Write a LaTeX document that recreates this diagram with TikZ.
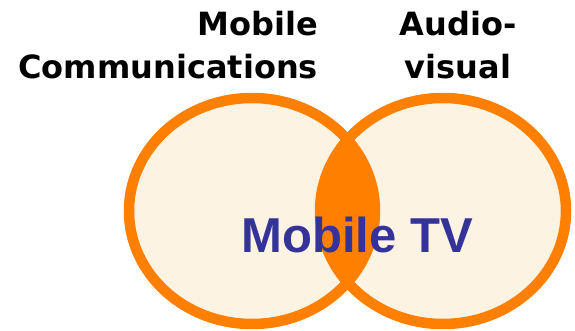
\documentclass[tikz,border=0pt]{standalone}
\usepackage{fontspec}
\setmainfont{DejaVu Sans}
\newfontfamily\tvfont{Liberation Sans}
\definecolor{vennorange}{RGB}{255,128,0}
\definecolor{venncream}{RGB}{253,243,226}
\definecolor{tvblue}{RGB}{51,51,153}
\tikzset{
  setlabel/.style={font=\bfseries\fontsize{32}{42.5}\selectfont, inner sep=0pt},
  ring/.style={draw=vennorange, line width=10.5pt}
}
\begin{document}
\begin{tikzpicture}[x=1pt,y=-1pt,line join = round, line cap = round]
	\useasboundingbox (0,0) rectangle (575,331);
	\coordinate (mobc) at (252,211);
	\coordinate (av) at (443,211);
	% two sets, overlap filled
	\fill[venncream] (mobc) ellipse (123 and 113);
	\fill[venncream] (av) ellipse (123 and 113);
	\begin{scope}
		\clip (mobc) ellipse (123 and 113);
		\fill[vennorange] (av) ellipse (123 and 113);
	\end{scope}
	\draw[ring] (mobc) ellipse (123 and 113);
	\draw[ring] (av) ellipse (123 and 113);
	% base anchor sits on the last line
	\node[setlabel, align=right, anchor=base east] (mobclabel) at (318,78.5) {Mobile\\Communications};
	\node[setlabel, align=center, anchor=base] (avlabel) at (458,78.5) {Audio-\\visual};
	\node[font=\tvfont\bfseries\fontsize{49}{49}\selectfont, text=tvblue, inner sep=0pt, anchor=base] (tv) at (357,252) {Mobile TV};
\end{tikzpicture}
\end{document}
